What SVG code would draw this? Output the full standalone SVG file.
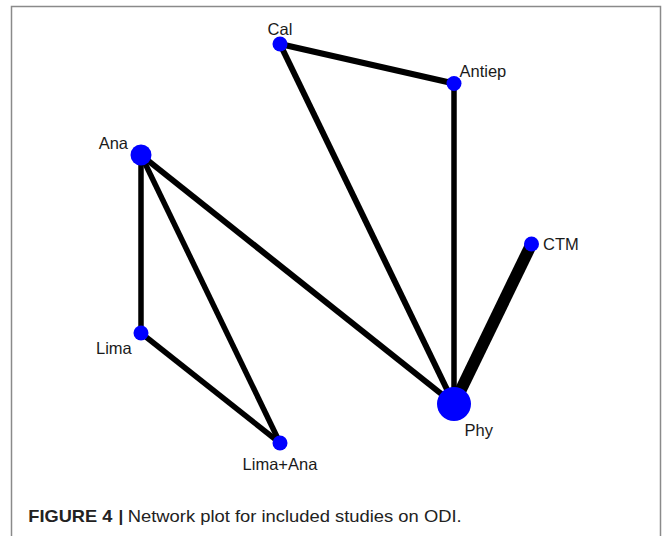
<svg xmlns="http://www.w3.org/2000/svg" width="665" height="536" viewBox="0 0 665 536">
<style>
.e{stroke:#000;stroke-linecap:butt;fill:none}
.n{fill:#0000ff}
.l{font-family:"Liberation Sans",Arial,sans-serif;font-size:16.5px;fill:#1a1a1a}
.c{font-family:"Liberation Sans",Arial,sans-serif;font-size:17px;fill:#222}
</style>
<rect width="665" height="536" fill="#fff"/>
<path d="M11.5,536 V6.5 H660.5 V536" fill="none" stroke="#8a8a8a" stroke-width="1.5"/>
<g id="connectors">
<line class="e" x1="280" y1="44" x2="454" y2="83.5" stroke-width="6"/>
<line class="e" x1="280" y1="44" x2="454" y2="404" stroke-width="6"/>
<line class="e" x1="454" y1="83.5" x2="454" y2="404" stroke-width="5.5"/>
<line class="e" x1="141" y1="155" x2="141" y2="333" stroke-width="5.5"/>
<line class="e" x1="141" y1="155" x2="280" y2="443" stroke-width="5.5"/>
<line class="e" x1="141" y1="155" x2="454" y2="404" stroke-width="6"/>
<line class="e" x1="141" y1="333" x2="280" y2="443" stroke-width="5.5"/>
<line class="e" x1="531.5" y1="244" x2="454" y2="404" stroke-width="12"/>
</g>
<g id="node-cal"><circle class="n" cx="280" cy="44" r="7.5"/><text class="l" x="280" y="34.5" text-anchor="middle">Cal</text></g>
<g id="node-antiep"><circle class="n" cx="454" cy="83.5" r="7.5"/><text class="l" x="459.5" y="77">Antiep</text></g>
<g id="node-ana"><circle class="n" cx="141" cy="155" r="10.5"/><text class="l" x="128" y="149" text-anchor="end">Ana</text></g>
<g id="node-ctm"><circle class="n" cx="531.5" cy="244" r="7.5"/><text class="l" x="543" y="250">CTM</text></g>
<g id="node-lima"><circle class="n" cx="141" cy="333" r="7.5"/><text class="l" x="96" y="354">Lima</text></g>
<g id="node-phy"><circle class="n" cx="454" cy="404" r="17"/><text class="l" x="464.5" y="436">Phy</text></g>
<g id="node-lima-ana"><circle class="n" cx="280" cy="443" r="7.5"/><text class="l" x="280" y="469.5" text-anchor="middle">Lima+Ana</text></g>
<g id="caption">
<text class="c" x="28.3" y="522" font-weight="bold" textLength="84" lengthAdjust="spacingAndGlyphs">FIGURE 4</text>
<text class="c" x="118.5" y="522" font-weight="bold">|</text>
<text class="c" x="127.7" y="522" textLength="334" lengthAdjust="spacingAndGlyphs">Network plot for included studies on ODI.</text>
</g>
</svg>
